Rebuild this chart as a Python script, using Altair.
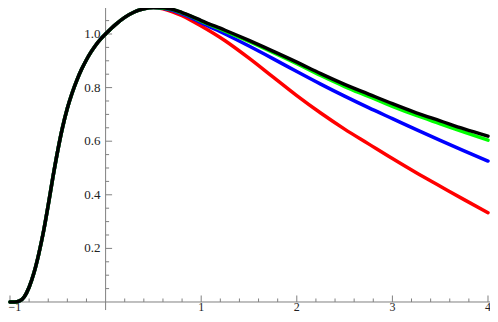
import altair as alt
import pandas as pd

# ---- data ----
common_x = [-1.0, -0.95, -0.9, -0.85, -0.8, -0.75, -0.7, -0.65, -0.6, -0.55, -0.5,
            -0.45, -0.4, -0.35, -0.3, -0.25, -0.2, -0.15, -0.1, -0.05, 0.0,
            0.1, 0.2, 0.3, 0.4, 0.5]
common_y = [0.0, 0.0, 0.004, 0.02, 0.055, 0.108, 0.178, 0.262, 0.362, 0.468, 0.566,
            0.652, 0.723, 0.780, 0.828, 0.869, 0.904, 0.934, 0.960, 0.982, 1.0,
            1.034, 1.062, 1.082, 1.094, 1.099]

tail_x = [0.6, 0.7, 0.8, 0.9, 1.0, 1.25, 1.5, 1.75, 2.0, 2.25, 2.5, 2.75, 3.0,
          3.25, 3.5, 3.75, 4.0]
red_tail = [1.094, 1.083, 1.068, 1.05, 1.03, 0.975, 0.91, 0.84, 0.77, 0.705,
            0.645, 0.59, 0.535, 0.482, 0.432, 0.382, 0.333]
blue_tail = [1.096, 1.088, 1.075, 1.06, 1.042, 1.0, 0.955, 0.908, 0.86, 0.813,
             0.768, 0.725, 0.684, 0.643, 0.603, 0.564, 0.526]
green_tail = [1.097, 1.091, 1.079, 1.065, 1.048, 1.011, 0.972, 0.931, 0.889, 0.845,
              0.804, 0.767, 0.730, 0.696, 0.665, 0.634, 0.604]
black_tail = [1.098, 1.092, 1.080, 1.066, 1.050, 1.014, 0.976, 0.936, 0.895, 0.852,
              0.812, 0.776, 0.740, 0.706, 0.676, 0.646, 0.619]

series_names = ["red", "blue", "green", "black"]
series_tails = [red_tail, blue_tail, green_tail, black_tail]
series_colors = ["#ff0000", "#0000ff", "#00ff00", "#000000"]

x_major = [-1, 1, 2, 3, 4]
x_labels = ["\u22121", "1", "2", "3", "4"]
x_minor = [-0.8, -0.6, -0.4, -0.2, 0.2, 0.4, 0.6, 0.8, 1.2, 1.4, 1.6, 1.8,
           2.2, 2.4, 2.6, 2.8, 3.2, 3.4, 3.6, 3.8]
y_major = [0.2, 0.4, 0.6, 0.8, 1.0]
y_labels = ["0.2", "0.4", "0.6", "0.8", "1.0"]
y_minor = [0.05, 0.1, 0.15, 0.25, 0.3, 0.35, 0.45, 0.5, 0.55, 0.65, 0.7, 0.75,
           0.85, 0.9, 0.95, 1.05, 1.1]

# ---- scales (plot area fills the whole chart) ----
X0, X1 = -1.0209, 4.021
Y0, Y1 = -0.0448, 1.097
xs = alt.Scale(domain=[X0, X1], nice=False, zero=False)
ys = alt.Scale(domain=[Y0, Y1], nice=False, zero=False)

AXIS_COLOR = "#808080"
FONT = "Liberation Serif, Times New Roman, DejaVu Serif, serif"
LABEL_COLOR = "#222222"

layers = []

# axis lines
layers.append(
    alt.Chart(pd.DataFrame({"a": [0]})).mark_rule(color=AXIS_COLOR, strokeWidth=1).encode(
        x=alt.datum(X0, scale=xs, axis=None), x2=alt.datum(X1),
        y=alt.datum(0, scale=ys, axis=None))
)
layers.append(
    alt.Chart(pd.DataFrame({"a": [0]})).mark_rule(color=AXIS_COLOR, strokeWidth=1).encode(
        x=alt.datum(0, scale=xs, axis=None),
        y=alt.datum(-0.03, scale=ys, axis=None), y2=alt.datum(Y1))
)

# x ticks (pointing up into the plot)
for vals, length in [(x_major, 6.5), (x_minor, 3.5)]:
    layers.append(
        alt.Chart(pd.DataFrame({"v": vals})).mark_rule(
            color=AXIS_COLOR, strokeWidth=1, y2Offset=-length).encode(
            x=alt.X("v:Q", scale=xs, axis=None),
            y=alt.datum(0, scale=ys, axis=None), y2=alt.datum(0))
    )
# y ticks (pointing right into the plot)
for vals, length in [(y_major, 6.5), (y_minor, 3.5)]:
    layers.append(
        alt.Chart(pd.DataFrame({"v": vals})).mark_rule(
            color=AXIS_COLOR, strokeWidth=1, x2Offset=length).encode(
            y=alt.Y("v:Q", scale=ys, axis=None),
            x=alt.datum(0, scale=xs, axis=None), x2=alt.datum(0))
    )

# x tick labels: the first one is kept inside the left edge
xl_df = pd.DataFrame({"v": x_major, "t": x_labels})
layers.append(
    alt.Chart(xl_df.iloc[1:]).mark_text(
        baseline="alphabetic", align="center", dy=9.3, font=FONT, fontSize=12,
        color=LABEL_COLOR).encode(
        x=alt.X("v:Q", scale=xs, axis=None),
        y=alt.datum(0, scale=ys, axis=None), text="t:N")
)
layers.append(
    alt.Chart(xl_df.iloc[:1]).mark_text(
        baseline="alphabetic", align="left", dx=-1.5, dy=9.3, font=FONT, fontSize=12,
        color=LABEL_COLOR).encode(
        x=alt.X("v:Q", scale=xs, axis=None),
        y=alt.datum(0, scale=ys, axis=None), text="t:N")
)
# y tick labels
layers.append(
    alt.Chart(pd.DataFrame({"v": y_major, "t": y_labels})).mark_text(
        baseline="middle", align="right", dx=-5, font=FONT, fontSize=13,
        color=LABEL_COLOR).encode(
        y=alt.Y("v:Q", scale=ys, axis=None),
        x=alt.datum(0, scale=xs, axis=None), text="t:N")
)

# curves (red, blue, green, black on top)
for name, tail, col in zip(series_names, series_tails, series_colors):
    df = pd.DataFrame({"x": common_x + tail_x, "y": common_y + tail})
    layers.append(
        alt.Chart(df).mark_line(color=col, strokeWidth=3.5, strokeCap="round",
                                strokeJoin="round", interpolate="monotone").encode(
            x=alt.X("x:Q", scale=xs, axis=None),
            y=alt.Y("y:Q", scale=ys, axis=None),
            order="x:Q")
    )

chart = alt.layer(*layers).properties(
    width=482, height=306,
    autosize=alt.AutoSizeParams(type="none"),
    padding={"left": 0, "top": 0, "right": 0, "bottom": 0},
).configure_view(stroke=None)

chart.save("out.html", embed_options={"renderer": "svg", "actions": False})
